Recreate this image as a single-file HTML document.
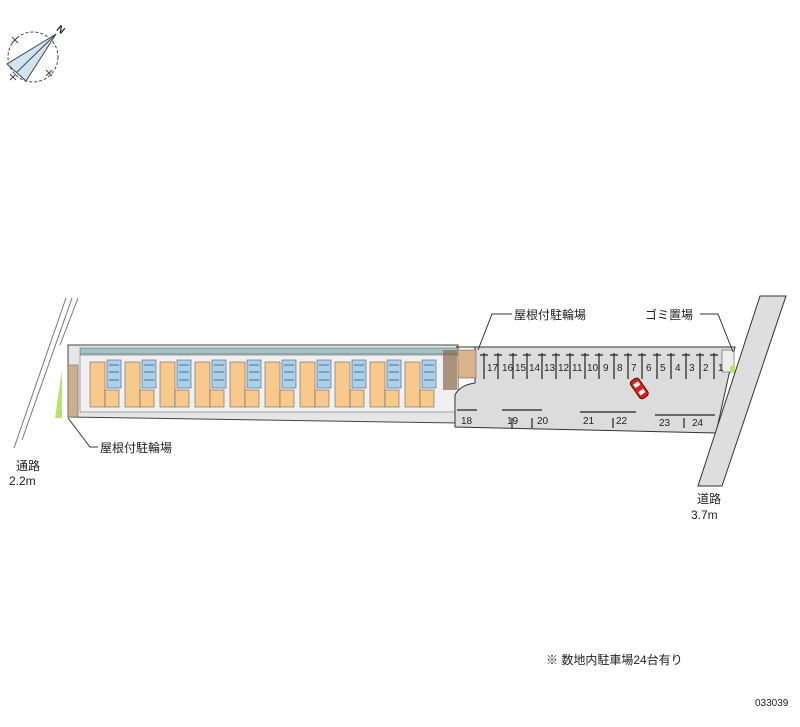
<!DOCTYPE html>
<html><head><meta charset="utf-8"><style>
body{margin:0;background:#fff}
svg{display:block}
text{font-family:"Liberation Sans","Noto Sans CJK JP",sans-serif;fill:#222}
</style></head><body>
<svg width="800" height="727" viewBox="0 0 800 727" xmlns="http://www.w3.org/2000/svg">
<circle cx="33" cy="57" r="25" fill="none" stroke="#444" stroke-dasharray="3,2"/>
<path d="M56,34 L7,64 L26,81 Z" fill="#cfe6f2" stroke="#444"/>
<line x1="56" y1="34" x2="17" y2="72" stroke="#444"/>
<text x="58" y="32" font-size="10" font-weight="bold" transform="rotate(40 60 28)">N</text>
<path d="M12,37 l6,6 M18,37 l-6,6 M46,70 l6,6 M52,70 l-6,6 M10,74 l6,6 M16,74 l-6,6" stroke="#444"/>
<path d="M66,298 L14,448 M72,298 L22,440 M78,298 L60,345" stroke="#777" fill="none"/>
<polygon points="68,345 458,345 458,423 68,417" fill="#e6e6e6" stroke="#444"/>
<rect x="80" y="348" width="378" height="6" fill="#9ec3c8" stroke="#555" stroke-width="0.5"/>
<rect x="80" y="355" width="378" height="57" fill="#f0f0f0" stroke="#555" stroke-width="0.5"/>
<rect x="68" y="365" width="10" height="52" fill="#c9b08a" stroke="#555" stroke-width="0.5"/>
<polygon points="55,418 62,370 62,418" fill="#b6e36a"/>
<g id="units">
<rect x="90" y="362" width="15" height="45" fill="#f7c98c" stroke="#666" stroke-width="0.6"/>
<rect x="105" y="390" width="14" height="17" fill="#f7c98c" stroke="#666" stroke-width="0.6"/>
<rect x="107" y="360" width="14" height="28" fill="#a9d1ea" stroke="#557" stroke-width="0.6"/>
<path d="M109,365h10M109,372h10M109,380h10" stroke="#446" stroke-width="0.8"/>
</g>
<use href="#units" x="35"/><use href="#units" x="70"/><use href="#units" x="105"/><use href="#units" x="140"/>
<use href="#units" x="175"/><use href="#units" x="210"/><use href="#units" x="245"/><use href="#units" x="280"/><use href="#units" x="315"/>
<rect x="443" y="350" width="14" height="40" fill="#8a6a4a" opacity="0.7"/>
<path d="M456,347 L735,347 L716,433 L455,427 L455,395 Q460,385 475,383 L475,347 Z" fill="#dcdcdc" stroke="#333"/>
<rect x="458" y="350" width="18" height="28" fill="#d9b48a" stroke="#666" stroke-width="0.6"/>
<rect x="722" y="350" width="12" height="22" fill="#eee" stroke="#555" stroke-width="0.6"/>
<rect x="730" y="366" width="5" height="6" fill="#b6e36a"/>
<g stroke="#222" stroke-width="1.2">
<path d="M484,353v26M498,353v26M513,353v26M527,353v26M542,353v26M556,353v26M570,353v26M585,353v26M599,353v26M614,353v26M628,353v26M642,353v26M657,353v26M671,353v26M686,353v26M700,353v26M714,353v26"/>
<path d="M480,355h8M494,355h8M509,355h8M523,355h8M538,355h8M552,355h8M566,355h8M581,355h8M595,355h8M610,355h8M624,355h8M638,355h8M653,355h8M667,355h8M682,355h8M696,355h8M710,355h8"/>
<path d="M457,410h20M502,410h40M580,412h56M655,415h60M512,418v10M532,418v10M613,418v10M684,418v10"/>
</g>
<g font-size="10">
<text x="487" y="371">17</text><text x="502" y="371">16</text><text x="515" y="371">15</text><text x="529" y="371">14</text><text x="544" y="371">13</text><text x="558" y="371">12</text><text x="572" y="371">11</text><text x="587" y="371">10</text><text x="603" y="371">9</text><text x="617" y="371">8</text><text x="631" y="371">7</text><text x="646" y="371">6</text><text x="660" y="371">5</text><text x="675" y="371">4</text><text x="689" y="371">3</text><text x="703" y="371">2</text><text x="718" y="371">1</text>
<text x="461" y="424">18</text><text x="507" y="424">19</text><text x="537" y="424">20</text><text x="583" y="424">21</text><text x="616" y="424">22</text><text x="659" y="426">23</text><text x="692" y="426">24</text>
</g>
<g transform="rotate(55 639 388)"><rect x="629" y="383" width="21" height="10" rx="3" fill="#e02020" stroke="#600"/><rect x="633" y="385" width="4" height="6" fill="#fff"/><rect x="642" y="385" width="4" height="6" fill="#fff"/></g>
<polygon points="760,296 786,296 722,486 698,486" fill="#dedede" stroke="#333"/>
<path d="M512,314H492L478,350M700,314H718L733,352M98,447H90L68,418" stroke="#333" fill="none"/>
<g font-size="12">
<text x="514" y="319">屋根付駐輪場</text>
<text x="645" y="319">ゴミ置場</text>
<text x="100" y="452">屋根付駐輪場</text>
<text x="16" y="470">通路</text><text x="9" y="485">2.2m</text>
<text x="697" y="503">道路</text><text x="691" y="519">3.7m</text>
<text x="546" y="664">※ 数地内駐車場24台有り</text>
</g>
<text x="755" y="706" font-size="10">033039</text>
</svg>
</body></html>
